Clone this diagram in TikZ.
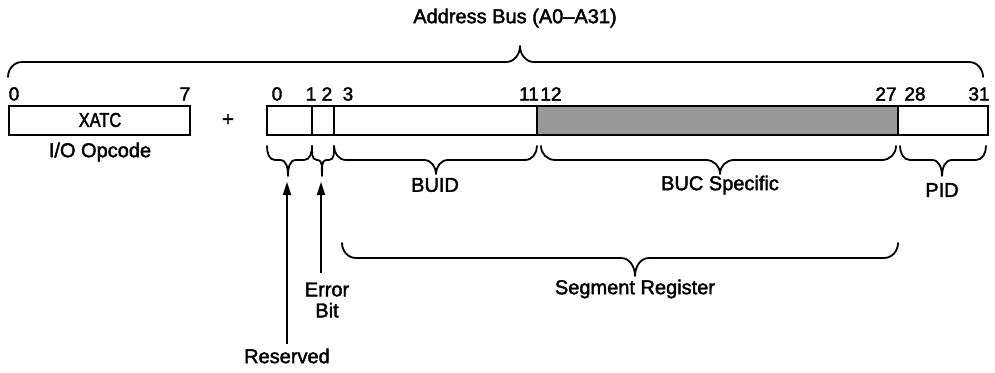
\documentclass[tikz,border=0pt]{standalone}
\usepackage{fontspec}
\setmainfont{Liberation Sans}[FakeBold=2]
\newfontfamily\narrowfont{Liberation Sans}[FakeStretch=0.82,FakeBold=2]
\usetikzlibrary{arrows.meta}
\newcommand\dbr[7]{% x1 x2 xm ytop ymid ytip r  (brace opening upward, tip down)
  \draw[brc] (#1,-#4) to[out=-90,in=180] (#1+#7,-#5) -- (#3-#7,-#5) to[out=0,in=90] (#3,-#6)
             to[out=90,in=180] (#3+#7,-#5) -- (#2-#7,-#5) to[out=0,in=-90] (#2,-#4);}
\begin{document}
\begin{tikzpicture}[x=1pt,y=1pt,
  brc/.style={line width=1.8pt,line join=round,line cap=round},
  box/.style={draw,line width=1.8pt,inner sep=0pt},
  lbl/.style={inner sep=0pt,font=\fontsize{20}{22}\selectfont},
  num/.style={inner sep=0pt,font=\fontsize{19}{20}\selectfont},
  arr/.style={line width=1.8pt,-{Triangle[length=13pt,width=8pt]}}]
\useasboundingbox (0,0) rectangle (995,-372);
% title
\node[lbl] (title) at (515,-18) {Address Bus (A0--A31)};
% top brace
\draw[brc] (8,-77) to[out=90,in=180] (22,-62) -- (506,-62) to[out=0,in=-90] (520,-46)
           to[out=-90,in=180] (534,-62) -- (969,-62) to[out=0,in=90] (983,-77);
% left box
\draw[box] (9,-106) rectangle (190,-135);
\node[inner sep=0pt,font=\narrowfont\fontsize{20}{21}\selectfont] (xatc) at (100,-120) {XATC};
\node[lbl] (opc) at (100,-152) {I/O Opcode};
\node[num] (n0a) at (14,-94) {0};
\node[num] (n7) at (185,-94) {7};
\node[lbl] (plus) at (228,-120) {+};
% right box
\fill[black!40] (537,-106) rectangle (898,-135);
\draw[box] (267,-106) rectangle (988,-135);
\draw[box] (312,-106) -- (312,-135);
\draw[box] (334,-106) -- (334,-135);
\draw[box] (537,-106) -- (537,-135);
\draw[box] (898,-106) -- (898,-135);
\node[num] (b0) at (277,-94) {0};
\node[num] (b1) at (311,-94) {1};
\node[num] (b2) at (327,-94) {2};
\node[num] (b3) at (348,-94) {3};
\node[num] (b11) at (529,-94) {11};
\node[num] (b12) at (551,-94) {12};
\node[num] (b27) at (886,-94) {27};
\node[num] (b28) at (915,-94) {28};
\node[num] (b31) at (979,-94) {31};
% lower braces
\dbr{267}{312}{288}{146}{160}{176}{8}
\dbr{312}{334}{322}{146}{160}{176}{5}
\dbr{334}{537}{436}{146}{160}{174}{12}
\dbr{541}{896}{720}{146}{160}{174}{14}
\dbr{900}{986}{942}{146}{160}{176}{10}
\dbr{342}{898}{635}{243}{258}{276}{14}
\node[lbl] (buid) at (435,-185) {BUID};
\node[lbl] (buc) at (720,-185) {BUC Specific};
\node[lbl] (pid) at (942,-190) {PID};
\node[lbl] (seg) at (635,-289) {Segment Register};
\node[lbl,align=center,font=\fontsize{20}{21}\selectfont] (err) at (327,-300) {Error\\Bit};
\node[lbl] (res) at (287,-356) {Reserved};
\coordinate (restip) at (287,-182);
\coordinate (errtip) at (321,-182);
\draw[arr] (287,-344) -- (restip);
\draw[arr] (321,-273) -- (errtip);
\end{tikzpicture}
\end{document}
